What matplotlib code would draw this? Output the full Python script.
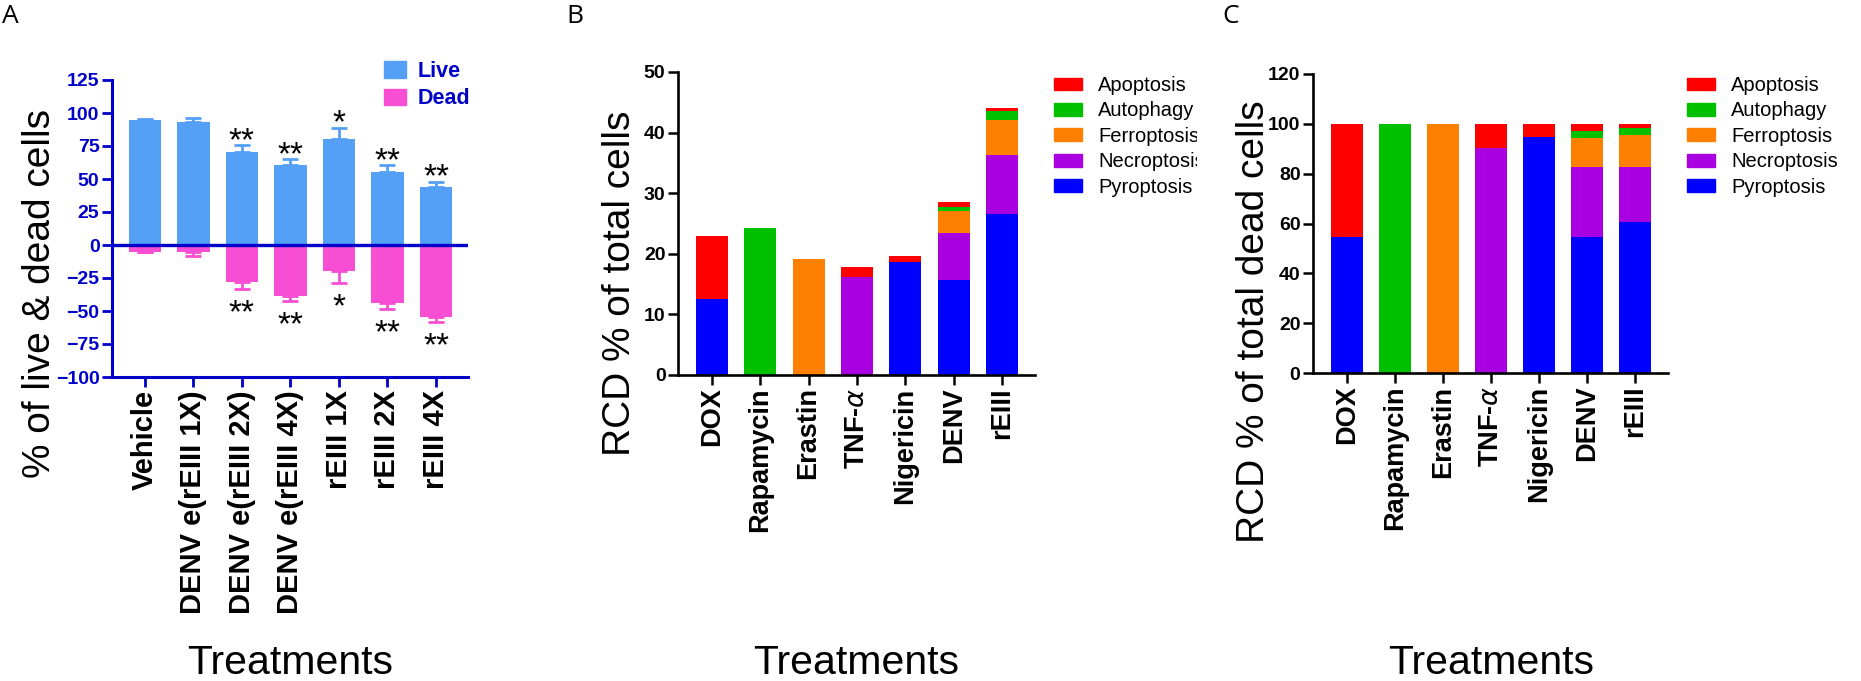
import numpy as np
import matplotlib
matplotlib.use("Agg")
import matplotlib.pyplot as plt
from matplotlib.patches import Patch
from matplotlib.transforms import Bbox, TransformedBbox

plt.rcParams["font.family"] = ["Liberation Sans", "DejaVu Sans"]

W, H = 1861, 681

# panel A data: live / dead cells per treatment
a_labels = ["Vehicle", "DENV e(rEIII 1X)", "DENV e(rEIII 2X)", "DENV e(rEIII 4X)",
            "rEIII 1X", "rEIII 2X", "rEIII 4X"]
live = [94.7, 93.5, 70.7, 60.6, 80.0, 55.0, 44.2]
live_err = [0.8, 3.0, 5.1, 4.3, 8.9, 5.6, 3.8]
dead = [-5.0, -5.5, -28.3, -38.4, -19.5, -43.7, -54.8]
dead_err = [0.5, 2.5, 4.7, 4.0, 9.0, 5.0, 3.2]
live_stars = ["", "", "**", "**", "*", "**", "**"]
dead_stars = ["", "", "**", "**", "*", "**", "**"]
a_yticks = [125, 100, 75, 50, 25, 0, -25, -50, -75, -100]

# panels B and C: regulated cell death by type
rcd_labels = ["DOX", "Rapamycin", "Erastin", "TNF-$\\alpha$", "Nigericin", "DENV", "rEIII"]
rcd_types = ["Pyroptosis", "Necroptosis", "Ferroptosis", "Autophagy", "Apoptosis"]
rcd_colors = ["#0000FF", "#A800E0", "#FF8000", "#00C000", "#FF0000"]

b_pyro = [12.5, 0, 0, 0, 18.7, 15.6, 26.6]
b_necro = [0, 0, 0, 16.2, 0, 7.9, 9.7]
b_ferro = [0, 0, 19.1, 0, 0, 3.5, 5.8]
b_auto = [0, 24.2, 0, 0, 0, 0.7, 1.5]
b_apop = [10.5, 0, 0, 1.7, 1.0, 0.9, 0.4]

c_pyro = [54.5, 0, 0, 0, 94.8, 54.5, 60.5]
c_necro = [0, 0, 0, 90.3, 0, 28.0, 22.0]
c_ferro = [0, 0, 100, 0, 0, 12.0, 13.0]
c_auto = [0, 100, 0, 0, 0, 2.7, 3.0]
c_apop = [45.5, 0, 0, 9.7, 5.2, 2.8, 1.5]

live_c = "#55A0F7"
dead_c = "#F74ED4"
navy = "#0000C8"

fig = plt.figure(figsize=(W / 100, H / 100), dpi=100)


def px_axes(l, t, r, b):
    return fig.add_axes([l / W, 1 - b / H, (r - l) / W, (b - t) / H])


def fig_pt(x, y):
    return x / W, 1 - y / H


# ---------------- panel A ----------------
ax = px_axes(112, 80, 468, 377)
x = np.arange(len(a_labels))
ax.bar(x, live, width=0.67, color=live_c, zorder=2)
ax.bar(x, dead, width=0.67, color=dead_c, zorder=2)
ax.errorbar(x, live, yerr=[np.zeros(len(x)), live_err], fmt="none", ecolor=live_c,
            elinewidth=2, capsize=5.5, capthick=2, zorder=1)
ax.errorbar(x, dead, yerr=[dead_err, np.zeros(len(x))], fmt="none", ecolor=dead_c,
            elinewidth=2, capsize=5.5, capthick=2, zorder=1)
ax.axhline(0, color=navy, lw=2.4, zorder=3)
for i in range(len(x)):
    if live_stars[i]:
        ax.annotate(live_stars[i], (x[i], live[i] + live_err[i]), xytext=(0, -3.5),
                    textcoords="offset points", ha="center", va="baseline", fontsize=24)
    if dead_stars[i]:
        ax.annotate(dead_stars[i], (x[i], dead[i] - dead_err[i]), xytext=(0, -24),
                    textcoords="offset points", ha="center", va="baseline", fontsize=24)
ax.set_xlim(-0.68, 6.66)
ax.set_ylim(-100, 125)
ax.set_yticks(a_yticks)
ax.set_xticks(x)
ax.set_xticklabels(a_labels, rotation=90, fontsize=21, fontweight="bold", va="top")
ax.tick_params(axis="y", colors=navy, labelsize=14, length=7.5, width=2, pad=1.5)
ax.tick_params(axis="x", colors=navy, labelcolor="black", length=7.5, width=2, pad=2)
for lab in ax.get_yticklabels():
    lab.set_fontweight("bold")
for s in ["top", "right"]:
    ax.spines[s].set_visible(False)
for s in ["left", "bottom"]:
    ax.spines[s].set_color(navy)
    ax.spines[s].set_linewidth(2.2)
leg = ax.legend(handles=[Patch(color=live_c, label="Live"), Patch(color=dead_c, label="Dead")],
                loc="upper left", bbox_to_anchor=fig_pt(384, 61), bbox_transform=fig.transFigure,
                frameon=False, borderpad=0, borderaxespad=0, handlelength=1.0,
                handleheight=0.8, handletextpad=0.55, labelspacing=0.3,
                prop={"size": 15.5, "weight": "bold"})
for t in leg.get_texts():
    t.set_color(navy)

fig.text(*fig_pt(40, 293), "% of live & dead cells", rotation=90, ha="center",
         va="center", fontsize=28)
fig.text(*fig_pt(290, 674), "Treatments", ha="center", va="baseline", fontsize=29.5)


# ---------------- panels B and C ----------------
def stacked(ax, layers, ymax, step):
    xs = np.arange(len(rcd_labels))
    bottom = np.zeros(len(xs))
    for vals, col, name in zip(layers, rcd_colors, rcd_types):
        ax.bar(xs, vals, bottom=bottom, width=0.66, color=col, label=name)
        bottom += np.array(vals)
    ax.set_xlim(-0.7, 6.68)
    ax.set_ylim(0, ymax)
    ax.set_yticks(np.arange(0, ymax + 1, step))
    ax.set_xticks(xs)
    ax.set_xticklabels(rcd_labels, rotation=90, fontsize=19.5, fontweight="bold", va="top")
    ax.tick_params(axis="both", length=7.5, width=1.8, pad=1.5)
    ax.tick_params(axis="y", labelsize=14)
    for lab in ax.get_yticklabels():
        lab.set_fontweight("bold")
    for s in ["top", "right"]:
        ax.spines[s].set_visible(False)
    for s in ["left", "bottom"]:
        ax.spines[s].set_linewidth(1.9)


def rcd_legend(ax, px, py, clip_x=None):
    handles = [Patch(color=c, label=n) for n, c in zip(rcd_types, rcd_colors)][::-1]
    leg = ax.legend(handles=handles, loc="upper left", bbox_to_anchor=fig_pt(px, py),
                    bbox_transform=fig.transFigure, frameon=False, borderpad=0,
                    borderaxespad=0, handlelength=1.4, handleheight=0.6,
                    handletextpad=0.8, labelspacing=0.32, fontsize=14.5)
    if clip_x is not None:
        box = TransformedBbox(Bbox([[0, 0], [clip_x / W, 1]]), fig.transFigure)
        for t in leg.get_texts():
            t.set_clip_box(box)
            t.set_clip_on(True)


axb = px_axes(678, 72, 1035, 375)
stacked(axb, [b_pyro, b_necro, b_ferro, b_auto, b_apop], 50, 10)
rcd_legend(axb, 1054, 76, clip_x=1197)
fig.text(*fig_pt(620, 283), "RCD % of total cells", rotation=90, ha="center",
         va="center", fontsize=28)
fig.text(*fig_pt(856, 674), "Treatments", ha="center", va="baseline", fontsize=29.5)

axc = px_axes(1313, 74, 1668, 373)
stacked(axc, [c_pyro, c_necro, c_ferro, c_auto, c_apop], 120, 20)
rcd_legend(axc, 1687, 76)
fig.text(*fig_pt(1254, 322), "RCD % of total dead cells", rotation=90, ha="center",
         va="center", fontsize=28)
fig.text(*fig_pt(1491, 674), "Treatments", ha="center", va="baseline", fontsize=29.5)

# panel letters
for letter, px in [("A", 2), ("B", 566), ("C", 1222)]:
    fig.text(*fig_pt(px, 4), letter, ha="left", va="top", fontsize=19,
             family=["Open Sans", "DejaVu Sans"])

fig.savefig("out.png", dpi=100)
